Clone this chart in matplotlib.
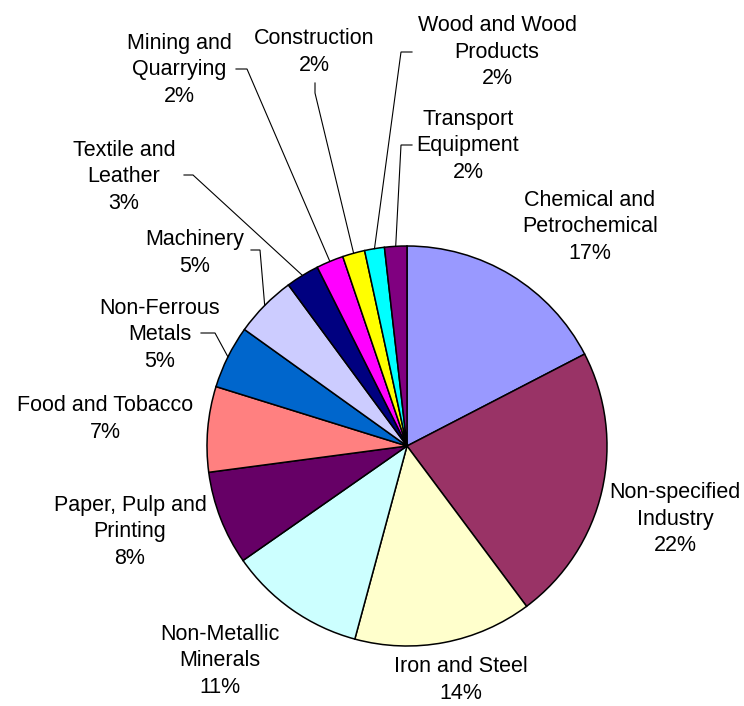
import matplotlib
matplotlib.use("Agg")
import matplotlib.pyplot as plt
import numpy as np

# Industrial final energy consumption by sector (share of total)
sectors = [
    "Chemical and\nPetrochemical",
    "Non-specified\nIndustry",
    "Iron and Steel",
    "Non-Metallic\nMinerals",
    "Paper, Pulp and\nPrinting",
    "Food and Tobacco",
    "Non-Ferrous\nMetals",
    "Machinery",
    "Textile and\nLeather",
    "Mining and\nQuarrying",
    "Construction",
    "Wood and Wood\nProducts",
    "Transport\nEquipment",
]
shares = [17.4, 22.4, 14.4, 11.1, 7.6, 6.9, 5.1, 5.0, 2.7, 2.2, 1.8, 1.6, 1.8]
colors = ["#9999FF", "#993366", "#FFFFCC", "#CCFFFF", "#660066", "#FF8080",
          "#0066CC", "#CCCCFF", "#000080", "#FF00FF", "#FFFF00", "#00FFFF",
          "#800080"]

W, H = 744, 706
fig = plt.figure(figsize=(W / 100, H / 100), dpi=100)
ax = fig.add_axes([0, 0, 1, 1])


def Y(py):
    # convert a top-origin pixel row into axis units
    return H - py


cx, cy, r = 407, Y(446), 200
wedges, _ = ax.pie(shares, colors=colors, startangle=90, counterclock=False,
                   center=(cx, cy), radius=r, frame=True,
                   wedgeprops=dict(edgecolor="black", linewidth=1.1))
ax.set_xlim(0, W)
ax.set_ylim(0, H)
ax.axis("off")

total = sum(shares)

# label block centres (x, y of middle) in pixel rows from the top
label_pos = [
    (590, 227), (675, 519), (461, 680), (220, 661), (130, 532), (105, 419),
    (160, 335), (195, 253), (124, 177), (179, 70), (314, 52), (497, 52),
    (468, 146),
]
# leader lines for the narrow slices: (text-side end, elbow)
leaders = {
    6: ((201, 333), (215, 333)),
    7: ((251, 250), (260, 250)),
    8: ((184, 175), (193, 175)),
    9: ((236, 69), (247, 69)),
    10: ((315, 83), (315, 93)),
    11: ((412, 52), (401, 52)),
    12: ((412, 145), (401, 145)),
}

for i, (name, v) in enumerate(zip(sectors, shares)):
    txt = f"{name}\n{v / total * 100:.0f}%"
    x, y = label_pos[i]
    ax.text(x, Y(y), txt, ha="center", va="center", multialignment="center",
            fontsize=15.5, family=["Liberation Sans", "DejaVu Sans"],
            linespacing=1.36, color="black")
    if i in leaders:
        w = wedges[i]
        mid = np.deg2rad((w.theta1 + w.theta2) / 2)
        ax_, ay_ = cx + r * np.cos(mid), cy + r * np.sin(mid)
        (ex, ey), (kx, ky) = leaders[i]
        ax.plot([ex, kx, ax_], [Y(ey), Y(ky), ay_], color="black",
                linewidth=0.8, solid_joinstyle="miter")

fig.savefig("out.png", dpi=100)
